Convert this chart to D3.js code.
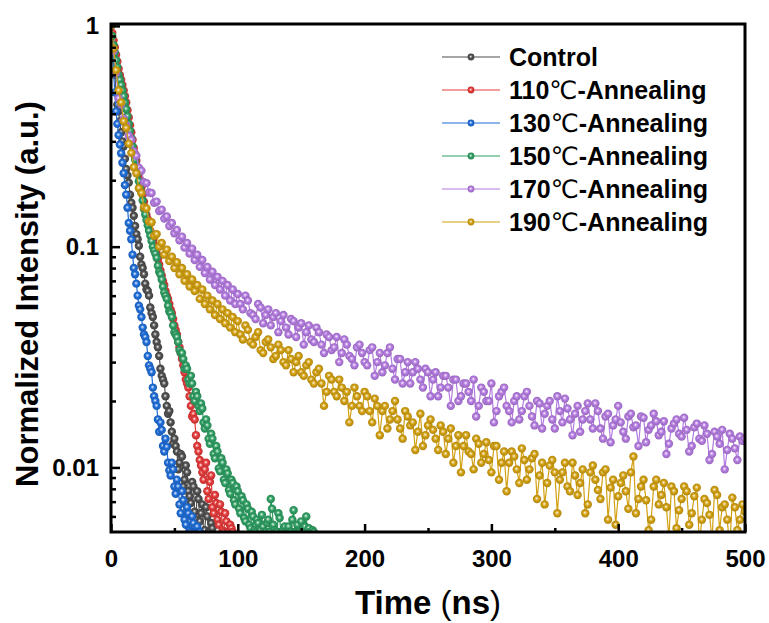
<!DOCTYPE html>
<html>
<head>
<meta charset="utf-8">
<script src="https://cdn.jsdelivr.net/npm/d3@7"></script>
<style>
  body { margin: 0; background: #fff; }
  text { font-family: Arial, "Liberation Sans", sans-serif; font-weight: bold; fill: #000; }
</style>
</head>
<body>
<svg id="chart" width="769" height="623"></svg>
<script>
// legend labels and colours
const seriesNames = ['Control', '110℃-Annealing', '130℃-Annealing', '150℃-Annealing', '170℃-Annealing', '190℃-Annealing'];
const seriesColors = ['#4f4f4f', '#e53a3a', '#1f6dd8', '#2f9f63', '#b47be0', '#d2a010'];

// time sampling (ns): even values start at 0, odd values at 1, both every 2 ns;
// 170/190 continue after 100 ns every 4 ns (A from 100, B from 102)
const fastStep = 2;
const slowStart = 100;
const slowStep = 4;

// normalized PL intensity
const controlEven = [1, 0.71, 0.5, 0.41, 0.33, 0.285, 0.225, 0.195, 0.158, 0.138, 0.114, 0.101, 0.083, 0.075, 0.064, 0.06,
  0.05, 0.044, 0.037, 0.032, 0.026, 0.024, 0.019, 0.018, 0.0145, 0.0135, 0.0118, 0.0105, 0.0112, 0.0088, 0.0095, 0.0074,
  0.0086, 0.0063, 0.0078, 0.0057, 0.0068, 0.0052, 0.006, 0.0051, 0.0053];
const controlOdd = [0.84, 0.6, 0.44, 0.37, 0.3, 0.25, 0.21, 0.172, 0.15, 0.124, 0.108, 0.09, 0.08, 0.068, 0.063, 0.053,
  0.048, 0.04, 0.035, 0.028, 0.025, 0.021, 0.0175, 0.016, 0.0128, 0.0125, 0.0098, 0.0115, 0.0082, 0.0102, 0.0078, 0.0069,
  0.0082, 0.0058, 0.0072, 0.0062, 0.0051, 0.0066, 0.0051, 0.0056];

const a110Even = [1, 0.86, 0.74, 0.64, 0.57, 0.51, 0.45, 0.385, 0.33, 0.28, 0.245, 0.213, 0.186, 0.16, 0.139, 0.127,
  0.112, 0.102, 0.093, 0.083, 0.074, 0.067, 0.06, 0.055, 0.05, 0.044, 0.04, 0.035, 0.031, 0.027, 0.024, 0.021, 0.017,
  0.0165, 0.0125, 0.0108, 0.0095, 0.0098, 0.0078, 0.0086, 0.0066, 0.0075, 0.0058, 0.0068, 0.0052, 0.0062, 0.0051, 0.0055, 0.0051];
const a110Odd = [0.93, 0.8, 0.69, 0.6, 0.54, 0.48, 0.415, 0.355, 0.305, 0.262, 0.228, 0.2, 0.172, 0.15, 0.133, 0.118,
  0.107, 0.097, 0.088, 0.078, 0.07, 0.063, 0.058, 0.052, 0.047, 0.042, 0.037, 0.033, 0.029, 0.025, 0.023, 0.019, 0.0175,
  0.014, 0.0118, 0.0102, 0.0088, 0.0105, 0.0072, 0.0092, 0.0062, 0.0069, 0.0055, 0.0063, 0.0051, 0.0057, 0.0051, 0.0053];

const a130Even = [1, 0.62, 0.41, 0.32, 0.265, 0.215, 0.172, 0.128, 0.108, 0.08, 0.068, 0.054, 0.048, 0.04, 0.037, 0.029,
  0.027, 0.021, 0.019, 0.0145, 0.0148, 0.0118, 0.0124, 0.0097, 0.0105, 0.0082, 0.0088, 0.0068, 0.0078, 0.0058, 0.0066,
  0.0052, 0.006, 0.0051, 0.0054, 0.0051];
const a130Odd = [0.8, 0.5, 0.36, 0.29, 0.24, 0.19, 0.15, 0.118, 0.092, 0.075, 0.06, 0.052, 0.043, 0.039, 0.032, 0.028,
  0.023, 0.02, 0.0165, 0.016, 0.0125, 0.0135, 0.0105, 0.0092, 0.0098, 0.0076, 0.0082, 0.0062, 0.0071, 0.0055, 0.0062,
  0.0051, 0.0056, 0.0051, 0.0051];

const a150Even = [1, 0.82, 0.7, 0.6, 0.54, 0.48, 0.42, 0.36, 0.31, 0.262, 0.232, 0.198, 0.176, 0.148, 0.132, 0.118,
  0.106, 0.096, 0.089, 0.077, 0.071, 0.062, 0.058, 0.051, 0.048, 0.041, 0.039, 0.034, 0.033, 0.028, 0.028, 0.024, 0.024,
  0.02, 0.021, 0.018, 0.0185, 0.015, 0.0155, 0.0128, 0.0135, 0.011, 0.0118, 0.0096, 0.0105, 0.0085, 0.0094, 0.0076, 0.0085,
  0.0068, 0.0078, 0.0062, 0.0071, 0.0057, 0.0065, 0.0053, 0.006, 0.0051, 0.0056, 0.0052, 0.0054, 0.0051, 0.0058, 0.0072,
  0.0055, 0.0051, 0.0062, 0.0051, 0.0052, 0.0051, 0.0054, 0.0051, 0.0064, 0.0051, 0.0051, 0.0057, 0.0051, 0.006, 0.0053, 0.0051, 0.0051];
const a150Odd = [0.9, 0.76, 0.65, 0.57, 0.51, 0.45, 0.39, 0.335, 0.285, 0.248, 0.215, 0.186, 0.162, 0.14, 0.125, 0.112,
  0.1, 0.093, 0.082, 0.075, 0.066, 0.06, 0.054, 0.05, 0.044, 0.04, 0.037, 0.033, 0.031, 0.029, 0.025, 0.026, 0.021, 0.022,
  0.019, 0.0195, 0.016, 0.0165, 0.0135, 0.0142, 0.0115, 0.0125, 0.0099, 0.011, 0.0088, 0.0098, 0.0079, 0.0088, 0.0071,
  0.0082, 0.0065, 0.0074, 0.0059, 0.0068, 0.0055, 0.0063, 0.0052, 0.0058, 0.0051, 0.0061, 0.0051, 0.0056, 0.0051, 0.0065,
  0.0052, 0.0051, 0.0059, 0.0051, 0.0054, 0.0051, 0.0051, 0.0058, 0.0051, 0.0055, 0.0051, 0.0051, 0.0054, 0.0051, 0.0051, 0.0052];

const a170Early = [1, 0.77, 0.61, 0.47, 0.44, 0.38, 0.355, 0.318, 0.305, 0.27, 0.258, 0.228, 0.221, 0.196, 0.194, 0.176,
  0.175, 0.158, 0.16, 0.145, 0.147, 0.134, 0.137, 0.124, 0.128, 0.115, 0.119, 0.107, 0.111, 0.099, 0.104, 0.093, 0.098,
  0.087, 0.092, 0.081, 0.087, 0.076, 0.081, 0.071, 0.077, 0.067, 0.073, 0.064, 0.07, 0.06, 0.067, 0.057, 0.064, 0.055];
const a170LateA = [0.061, 0.052, 0.057, 0.049, 0.055, 0.045, 0.052, 0.048, 0.041, 0.049, 0.04, 0.046, 0.043, 0.036, 0.044,
  0.037, 0.041, 0.033, 0.039, 0.035, 0.03, 0.038, 0.032, 0.029, 0.036, 0.03, 0.034, 0.026, 0.033, 0.029, 0.035, 0.025,
  0.031, 0.027, 0.024, 0.03, 0.025, 0.028, 0.021, 0.027, 0.023, 0.026, 0.019, 0.025, 0.021, 0.024, 0.02, 0.017, 0.023,
  0.02, 0.024, 0.018, 0.022, 0.019, 0.016, 0.021, 0.018, 0.022, 0.017, 0.02, 0.015, 0.019, 0.0165, 0.021, 0.016, 0.0185,
  0.014, 0.019, 0.0165, 0.0195, 0.015, 0.018, 0.0135, 0.0175, 0.0155, 0.019, 0.0145, 0.017, 0.0152, 0.0125, 0.0168, 0.0148,
  0.0175, 0.014, 0.0162, 0.0128, 0.0158, 0.0142, 0.0168, 0.0118, 0.0152, 0.0135, 0.0155, 0.0108, 0.0145, 0.0128, 0.0098,
  0.0142, 0.0122, 0.0138, 0.0135];
const a170LateB = [0.055, 0.06, 0.05, 0.047, 0.053, 0.049, 0.044, 0.05, 0.046, 0.043, 0.047, 0.039, 0.045, 0.041, 0.038,
  0.043, 0.036, 0.04, 0.034, 0.039, 0.033, 0.036, 0.031, 0.035, 0.033, 0.029, 0.035, 0.03, 0.027, 0.033, 0.028, 0.031,
  0.024, 0.03, 0.027, 0.028, 0.023, 0.027, 0.025, 0.021, 0.026, 0.023, 0.025, 0.02, 0.024, 0.022, 0.025, 0.019, 0.022,
  0.02, 0.016, 0.021, 0.023, 0.018, 0.02, 0.0165, 0.021, 0.019, 0.0155, 0.0195, 0.0175, 0.02, 0.015, 0.018, 0.0205,
  0.0165, 0.0175, 0.0145, 0.018, 0.0165, 0.0195, 0.015, 0.017, 0.013, 0.0165, 0.016, 0.0135, 0.0175, 0.0155, 0.017,
  0.013, 0.0155, 0.0162, 0.0145, 0.0115, 0.015, 0.0165, 0.0138, 0.0148, 0.0125, 0.0158, 0.0132, 0.0142, 0.0115, 0.0138,
  0.0148, 0.012, 0.0135, 0.0108, 0.0132];

const a190Early = [1, 0.79, 0.63, 0.51, 0.45, 0.37, 0.345, 0.293, 0.266, 0.229, 0.215, 0.184, 0.175, 0.151, 0.149, 0.13,
  0.129, 0.112, 0.114, 0.1, 0.104, 0.092, 0.097, 0.086, 0.09, 0.08, 0.085, 0.075, 0.08, 0.07, 0.075, 0.066, 0.071, 0.063,
  0.067, 0.058, 0.064, 0.055, 0.06, 0.052, 0.057, 0.049, 0.055, 0.047, 0.052, 0.045, 0.05, 0.043, 0.048, 0.041];
const a190LateA = [0.046, 0.038, 0.042, 0.036, 0.041, 0.033, 0.038, 0.031, 0.036, 0.03, 0.034, 0.027, 0.032, 0.026, 0.03,
  0.024, 0.028, 0.019, 0.026, 0.022, 0.025, 0.02, 0.016, 0.023, 0.019, 0.022, 0.018, 0.0205, 0.014, 0.019, 0.0165, 0.02,
  0.015, 0.018, 0.0155, 0.012, 0.0175, 0.014, 0.0165, 0.0135, 0.0155, 0.0115, 0.015, 0.0125, 0.0095, 0.014, 0.0115, 0.0135,
  0.0105, 0.013, 0.0095, 0.0125, 0.0105, 0.0078, 0.0118, 0.0098, 0.0122, 0.0088, 0.011, 0.0072, 0.0105, 0.0085, 0.0108,
  0.0062, 0.0095, 0.0082, 0.0105, 0.0075, 0.0098, 0.0068, 0.0102, 0.0079, 0.0095, 0.0058, 0.0088, 0.0074, 0.0092, 0.0065,
  0.0112, 0.0072, 0.0088, 0.0052, 0.0082, 0.0068, 0.0085, 0.0048, 0.0078, 0.0064, 0.0082, 0.0055, 0.0074, 0.0045, 0.0072,
  0.0061, 0.0079, 0.0052, 0.0068, 0.0043, 0.0066, 0.0058, 0.0063];
const a190LateB = [0.04, 0.044, 0.037, 0.039, 0.034, 0.037, 0.035, 0.032, 0.034, 0.029, 0.031, 0.03, 0.027, 0.029, 0.025,
  0.027, 0.024, 0.022, 0.025, 0.021, 0.023, 0.022, 0.019, 0.021, 0.018, 0.021, 0.016, 0.019, 0.018, 0.015, 0.018, 0.0165,
  0.0135, 0.017, 0.016, 0.0145, 0.0125, 0.0155, 0.0148, 0.012, 0.0145, 0.0135, 0.0105, 0.014, 0.0125, 0.0118, 0.0098,
  0.0128, 0.0115, 0.0108, 0.0125, 0.0088, 0.0118, 0.0105, 0.0112, 0.0085, 0.0108, 0.0098, 0.0115, 0.0092, 0.0068, 0.0102,
  0.0095, 0.0088, 0.0105, 0.0078, 0.0092, 0.0085, 0.0062, 0.0095, 0.0088, 0.0072, 0.0098, 0.0081, 0.0055, 0.0085, 0.0078,
  0.0095, 0.0062, 0.0082, 0.0071, 0.0058, 0.0088, 0.0075, 0.0066, 0.0082, 0.0053, 0.0072, 0.0078, 0.0062, 0.0081, 0.0058,
  0.0069, 0.0047, 0.0075, 0.0066, 0.0058, 0.0073, 0.0052, 0.0068];

const xTicks = [0, 100, 200, 300, 400, 500];
const xMinor = [50, 150, 250, 350, 450];
const yTicks = [1, 0.1, 0.01];
const yTickLabels = ['1', '0.1', '0.01'];
const yMinor = [0.9, 0.8, 0.7, 0.6, 0.5, 0.4, 0.3, 0.2, 0.09, 0.08, 0.07, 0.06, 0.05, 0.04, 0.03, 0.02,
  0.009, 0.008, 0.007, 0.006];

function toPoints(vals, t0, step) {
  return vals.map((v, i) => ({ t: t0 + i * step, v }));
}
function merge(...parts) {
  return [].concat(...parts).sort((a, b) => a.t - b.t);
}

const series = [
  merge(toPoints(controlEven, 0, fastStep), toPoints(controlOdd, 1, fastStep)),
  merge(toPoints(a110Even, 0, fastStep), toPoints(a110Odd, 1, fastStep)),
  merge(toPoints(a130Even, 0, fastStep), toPoints(a130Odd, 1, fastStep)),
  merge(toPoints(a150Even, 0, fastStep), toPoints(a150Odd, 1, fastStep)),
  merge(toPoints(a170Early, 0, fastStep), toPoints(a170LateA, slowStart, slowStep), toPoints(a170LateB, slowStart + 2, slowStep)),
  merge(toPoints(a190Early, 0, fastStep), toPoints(a190LateA, slowStart, slowStep), toPoints(a190LateB, slowStart + 2, slowStep))
];

const plot = { left: 111, right: 745, top: 24, bottom: 532 };

const svg = d3.select('#chart');
const x = d3.scaleLinear().domain([0, 500]).range([plot.left, plot.right]);
const y = d3.scaleLog().domain([0.0051, 1.02]).range([plot.bottom, plot.top]);

// sphere-like marker fills
const defs = svg.append('defs');
seriesColors.forEach((c, i) => {
  const g = defs.append('radialGradient').attr('id', 'ball' + i)
    .attr('cx', '50%').attr('cy', '50%').attr('r', '55%').attr('fx', '45%').attr('fy', '42%');
  g.append('stop').attr('offset', '0%').attr('stop-color', '#ffffff');
  g.append('stop').attr('offset', '18%').attr('stop-color', d3.interpolateRgb(c, '#fff')(0.5));
  g.append('stop').attr('offset', '45%').attr('stop-color', c);
  g.append('stop').attr('offset', '100%').attr('stop-color', d3.color(c).darker(0.6));
});
defs.append('clipPath').attr('id', 'plotClip')
  .append('rect')
  .attr('x', plot.left).attr('y', plot.top)
  .attr('width', plot.right - plot.left).attr('height', plot.bottom - plot.top);

const line = d3.line().x(d => x(d.t)).y(d => y(d.v));

const data = svg.append('g').attr('clip-path', 'url(#plotClip)');
series.forEach((pts, i) => {
  const g = data.append('g');
  g.append('path').datum(pts)
    .attr('d', line)
    .attr('fill', 'none')
    .attr('stroke', seriesColors[i])
    .attr('stroke-width', 1.2);
  g.selectAll('circle').data(pts).join('circle')
    .attr('cx', d => x(d.t))
    .attr('cy', d => y(d.v))
    .attr('r', 4.2)
    .attr('fill', `url(#ball${i})`);
});

// axes, ticks pointing inward
svg.append('g').attr('transform', `translate(0,${plot.bottom})`)
  .call(d3.axisBottom(x).tickValues(xTicks).tickSize(-8).tickPadding(18).tickFormat(d3.format('d')));
svg.append('g').attr('transform', `translate(0,${plot.bottom})`)
  .call(d3.axisBottom(x).tickValues(xMinor).tickSize(-4).tickFormat(''));
svg.append('g').attr('transform', `translate(${plot.left},0)`)
  .call(d3.axisLeft(y).tickValues(yTicks).tickSize(-9).tickPadding(12).tickFormat((d, i) => yTickLabels[i]));
svg.append('g').attr('transform', `translate(${plot.left},0)`)
  .call(d3.axisLeft(y).tickValues(yMinor).tickSize(-5).tickFormat(''));

svg.selectAll('.domain').remove();
svg.selectAll('.tick line').attr('stroke', '#000').attr('stroke-width', 2.5);
svg.selectAll('.tick text').style('font-size', '24px').style('font-family', 'Arial, "Liberation Sans", sans-serif')
  .style('font-weight', 'bold');

svg.append('rect')
  .attr('x', plot.left).attr('y', plot.top)
  .attr('width', plot.right - plot.left).attr('height', plot.bottom - plot.top)
  .attr('fill', 'none').attr('stroke', '#000').attr('stroke-width', 3);

// axis titles
const xTitle = svg.append('text')
  .attr('x', 428).attr('y', 614)
  .attr('text-anchor', 'middle')
  .style('font-size', '33px');
xTitle.append('tspan').text('Time ');
xTitle.append('tspan').style('font-weight', 'normal').text('(');
xTitle.append('tspan').text('ns');
xTitle.append('tspan').style('font-weight', 'normal').text(')');

svg.append('text')
  .attr('transform', 'translate(38,294) rotate(-90)')
  .attr('text-anchor', 'middle')
  .style('font-size', '31px')
  .text('Normalized Intensity (a.u.)');

// legend
const legend = svg.append('g');
seriesNames.forEach((name, i) => {
  const ly = 57 + i * 33;
  legend.append('line')
    .attr('x1', 442).attr('x2', 500).attr('y1', ly).attr('y2', ly)
    .attr('stroke', seriesColors[i]).attr('stroke-width', 1.2);
  legend.append('circle')
    .attr('cx', 471).attr('cy', ly).attr('r', 3.4)
    .attr('fill', `url(#ball${i})`);
  const t = legend.append('text').attr('x', 509).attr('y', ly + 9).style('font-size', '25px');
  const parts = name.split('℃');
  t.append('tspan').text(parts[0]);
  if (parts.length > 1) {
    t.append('tspan').style('font-weight', 'normal')
      .style('font-family', '"DejaVu Sans", sans-serif').text('℃');
    t.append('tspan').text(parts[1]);
  }
});
</script>
</body>
</html>
